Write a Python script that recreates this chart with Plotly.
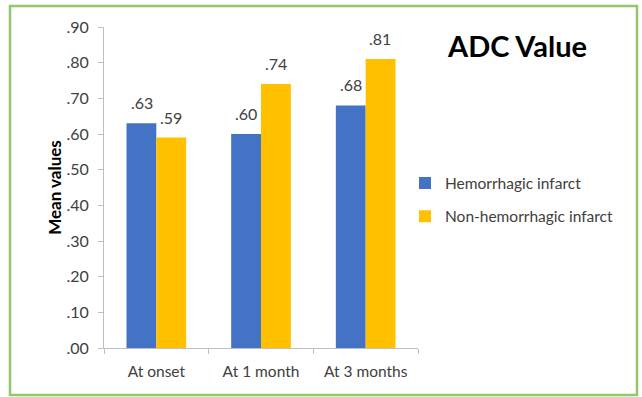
import plotly.graph_objects as go

# Data
categories = ["At onset", "At 1 month", "At 3 months"]
hemorrhagic = [0.63, 0.60, 0.68]
non_hemorrhagic = [0.59, 0.74, 0.81]
series_names = ["Hemorrhagic infarct", "Non-hemorrhagic infarct"]
y_tick_vals = [0, 0.1, 0.2, 0.3, 0.4, 0.5, 0.6, 0.7, 0.8, 0.9]
y_tick_text = [".00", ".10", ".20", ".30", ".40", ".50", ".60", ".70", ".80", ".90"]

W, H = 642, 397
# plot area in pixels
PL, PR, PT, PB = 104, 418, 27, 348

def px_x(x):
    return (x - PL) / (PR - PL)

def px_y(y):
    return (PB - y) / (PB - PT)

FONT = "Lato, 'Open Sans', sans-serif"
TXT = "#404040"
BAR_OFFSET = 14.8  # half a bar width, in px

def label(v):
    return ("%.2f" % v).lstrip("0")

fig = go.Figure()
fig.add_trace(go.Bar(
    x=categories, y=hemorrhagic, name=series_names[0],
    marker=dict(color="#4472C4", line=dict(width=0)),
    legendgroup="a",
))
fig.add_trace(go.Bar(
    x=categories, y=non_hemorrhagic, name=series_names[1],
    marker=dict(color="#FFC000", line=dict(width=0)),
    legendgroup="b",
))

# value labels above each bar
annotations = []
for series, shift in ((hemorrhagic, -BAR_OFFSET), (non_hemorrhagic, BAR_OFFSET)):
    for cat, v in zip(categories, series):
        annotations.append(dict(
            x=cat, y=v, xref="x", yref="y", text=label(v),
            xshift=shift, yshift=9, xanchor="center", yanchor="bottom",
            showarrow=False, font=dict(size=16, color=TXT, family=FONT),
        ))

annotations.append(dict(
    text="<b>ADC Value</b>", xref="paper", yref="paper",
    x=px_x(517), y=px_y(45), xanchor="center", yanchor="middle",
    showarrow=False, font=dict(size=29, color="#000000", family=FONT),
))

fig.update_layout(
    width=W, height=H,
    margin=dict(l=PL, r=W - PR, t=PT, b=H - PB),
    paper_bgcolor="white", plot_bgcolor="white",
    barmode="group", bargap=0.43, bargroupgap=0,
    font=dict(family=FONT, size=15, color=TXT),
    showlegend=True,
    legend=dict(
        x=px_x(405), xanchor="left", y=px_y(200), yanchor="middle",
        font=dict(size=15.5, color=TXT, family=FONT),
        tracegroupgap=10, bgcolor="rgba(0,0,0,0)",
    ),
    xaxis=dict(
        showline=True, linecolor="#BFBFBF", linewidth=1,
        ticks="outside", tickson="boundaries", ticklen=5, tickcolor="#BFBFBF",
        showgrid=False, ticklabelstandoff=9,
        tickfont=dict(size=15.5, color=TXT, family=FONT),
    ),
    yaxis=dict(
        range=[0, 0.9], tickvals=y_tick_vals, ticktext=y_tick_text,
        showline=True, linecolor="#BFBFBF", linewidth=1,
        ticks="outside", ticklen=5, tickcolor="#BFBFBF",
        showgrid=False, zeroline=False, ticklabelstandoff=6,
        tickfont=dict(size=16, color=TXT, family=FONT),
        title=dict(text="<b>Mean values</b>", standoff=0,
                   font=dict(size=17, color="#000000", family=FONT)),
    ),
    annotations=annotations,
    shapes=[dict(
        type="rect", xref="paper", yref="paper",
        x0=px_x(10), x1=px_x(637), y0=px_y(395), y1=px_y(6),
        line=dict(color="#92C86A", width=2.5), fillcolor="rgba(0,0,0,0)",
        layer="below",
    )],
)

fig.write_html("out.html")
